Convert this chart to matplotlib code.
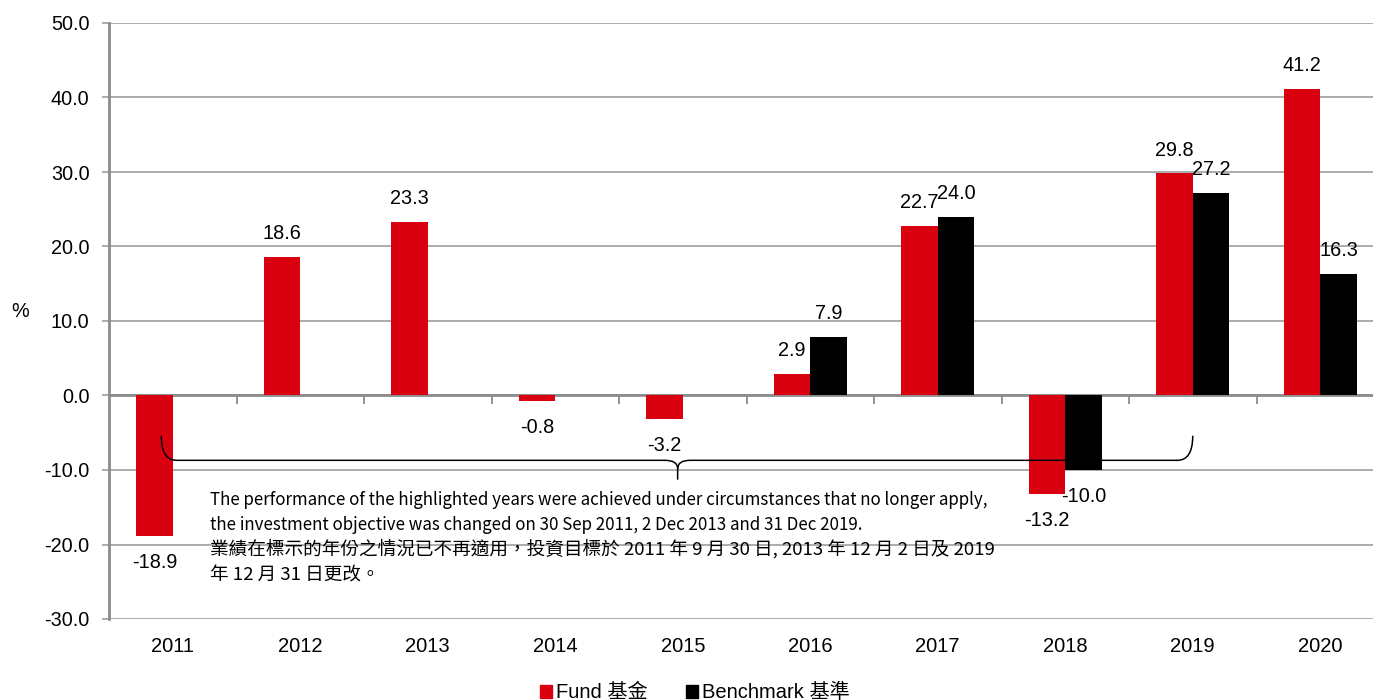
import numpy as np
import matplotlib
matplotlib.use("Agg")
import matplotlib.pyplot as plt
from matplotlib.path import Path
from matplotlib.patches import PathPatch, Patch

# 數據 / data
years = ["2011", "2012", "2013", "2014", "2015", "2016", "2017", "2018", "2019", "2020"]
fund = [-18.9, 18.6, 23.3, -0.8, -3.2, 2.9, 22.7, -13.2, 29.8, 41.2]
benchmark = [None, None, None, None, None, 7.9, 24.0, -10.0, 27.2, 16.3]

note_en = ("The performance of the highlighted years were achieved under circumstances that no longer apply,\n"
           "the investment objective was changed on 30 Sep 2011, 2 Dec 2013 and 31 Dec 2019.")
note_zh = ("業績在標示的年份之情況已不再適用，投資目標於 2011 年 9 月 30 日, 2013 年 12 月 2 日及 2019\n"
           "年 12 月 31 日更改。")

RED = "#D9000F"
GRID = "#A6A6A6"
fam = ["Liberation Sans", "Noto Sans CJK TC"]
plt.rcParams["font.family"] = fam

fig = plt.figure(figsize=(13.73, 7.0), dpi=100)
ax = fig.add_axes([109 / 1373, 1 - 619 / 700, 1275 / 1373, 596 / 700])

x = np.arange(len(years))
w = 0.287

# Fund bars
ax.bar(x - w / 2, fund, width=w, color=RED, zorder=3)
for xi, v in zip(x, fund):
    off = 10 if v >= 0 else -12
    ax.annotate(f"{v:.1f}", (xi - w / 2, v), xytext=(0, off), textcoords="offset points",
                ha="center", va="bottom" if v >= 0 else "top", fontsize=14.3)

# Benchmark bars (from 2016)
bx = [xi for xi, v in zip(x, benchmark) if v is not None]
bv = [v for v in benchmark if v is not None]
ax.bar(np.array(bx) + w / 2, bv, width=w, color="black", zorder=3)
for xi, v in zip(bx, bv):
    off = 10 if v >= 0 else -12
    ax.annotate(f"{v:.1f}", (xi + w / 2, v), xytext=(0, off), textcoords="offset points",
                ha="center", va="bottom" if v >= 0 else "top", fontsize=14.3)

# axes styling
ax.set_xlim(-0.5, len(years) - 0.5)
ax.set_ylim(-30, 50)
ax.set_yticks(np.arange(-30, 51, 10))
ax.yaxis.set_major_formatter(matplotlib.ticker.FormatStrFormatter("%.1f"))
ax.yaxis.grid(True, color=GRID, linewidth=1.3, zorder=0)
ax.set_axisbelow(True)
for s in ["top", "right", "bottom"]:
    ax.spines[s].set_visible(False)
ax.spines["left"].set_color("#8C8C8C")
ax.spines["left"].set_linewidth(2)
ax.tick_params(axis="y", length=5, width=1.3, color=GRID, pad=9, labelsize=14.3)
ax.set_xticks(x)
ax.set_xticklabels(years)
ax.tick_params(axis="x", length=0, pad=13, labelsize=14.5)

# zero line with small category ticks
ax.axhline(0, color="#8C8C8C", linewidth=2, zorder=2)
ax.vlines(np.arange(0.5, len(years) - 0.5, 1), 0, -1.2, color="#8C8C8C", linewidth=1.3, zorder=2)

ax.set_ylabel("%", rotation=0, fontsize=14.3)
ax.yaxis.set_label_coords(-0.07, 0.5)

# curly brace under the highlighted years
x0, x1, xc = -0.09, 8.0, 3.96
yt, ym, yp = -5.4, -8.7, -11.3
verts = [(x0, yt), (x0, ym), (x0 + 0.12, ym),
         (xc - 0.1, ym),
         (xc, ym), (xc, ym - 1.1),
         (xc, yp),
         (xc, ym - 1.1),
         (xc, ym), (xc + 0.1, ym),
         (x1 - 0.12, ym),
         (x1, ym), (x1, yt)]
codes = [Path.MOVETO, Path.CURVE3, Path.CURVE3,
         Path.LINETO,
         Path.CURVE3, Path.CURVE3,
         Path.LINETO,
         Path.MOVETO,
         Path.CURVE3, Path.CURVE3,
         Path.LINETO,
         Path.CURVE3, Path.CURVE3]
ax.add_patch(PathPatch(Path(verts, codes), facecolor="none", edgecolor="black", linewidth=1.1, zorder=5))

ax.text(0.29, -12.8, note_en, ha="left", va="top", fontsize=12.2, linespacing=1.5,
        family=["Liberation Sans Narrow", "Noto Sans CJK TC"], zorder=6)
ax.text(0.29, -19.3, note_zh, ha="left", va="top", fontsize=13.4, linespacing=1.55,
        family=["Noto Sans CJK TC", "DejaVu Sans"], zorder=6)

# legend
handles = [Patch(color=RED), Patch(color="black")]
fig.legend(handles, ["Fund 基金", "Benchmark 基準"], loc="upper center",
           bbox_to_anchor=(0.506, 1 - 665 / 700), ncol=2, frameon=False, fontsize=14.5,
           handlelength=0.6, handleheight=0.6, handletextpad=0.2, columnspacing=1.9)

fig.savefig("out.png", dpi=100)
